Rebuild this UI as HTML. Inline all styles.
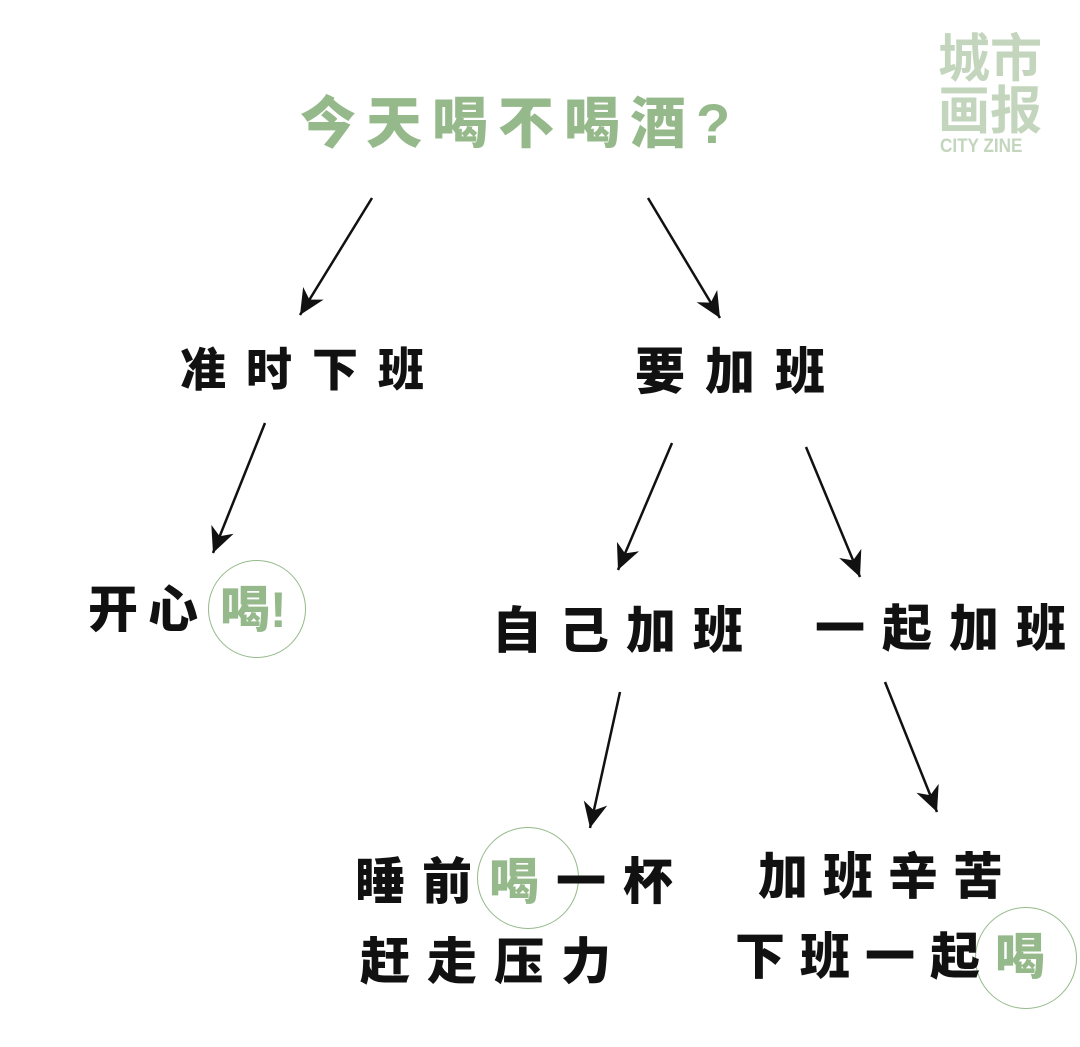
<!DOCTYPE html>
<html><head><meta charset="utf-8"><style>
html,body{margin:0;padding:0;background:#fff}
body{width:1080px;height:1047px;position:relative;overflow:hidden;font-family:"Liberation Sans","Noto Sans CJK SC",sans-serif}
.t{position:absolute;white-space:nowrap;font-weight:900;color:#111;line-height:1}
.g{color:#95b98a}
.c{position:absolute;border:1.5px solid #95b98a;border-radius:50%}
</style></head><body>
<svg width="1080" height="1047" style="position:absolute;left:0;top:0">
<defs>
<marker id="b" viewBox="0 0 20 20" markerWidth="30" markerHeight="30" refX="19" refY="10" orient="auto" markerUnits="userSpaceOnUse"><path d="M2,2 L19,10 L2,18 L7,10 Z" fill="#111"/></marker></defs>
<g stroke="#111" stroke-width="2.5" marker-end="url(#b)">
<line x1="372" y1="198" x2="300" y2="315"/>
<line x1="648" y1="198" x2="720" y2="318"/>
<line x1="265" y1="423" x2="213" y2="553"/>
<line x1="672" y1="443" x2="618" y2="570"/>
<line x1="806" y1="447" x2="860" y2="577"/>
<line x1="620" y1="692" x2="590" y2="828"/>
<line x1="885" y1="682" x2="937" y2="812"/>
</g></svg>
<div class="t g" style="left:300px;top:96px;font-size:56px;letter-spacing:10px">今天喝不喝酒?</div>
<div class="t" style="left:938px;top:34px;font-size:52px;color:#c3d6bd;font-weight:700">城市</div>
<div class="t" style="left:938px;top:86px;font-size:52px;color:#c3d6bd;font-weight:700">画报</div>
<div class="t" style="left:940px;top:137px;font-size:19px;color:#c3d6bd;font-weight:700;transform:scaleX(0.9);transform-origin:left">CITY ZINE</div>
<div class="t" style="left:180px;top:347px;font-size:46px;letter-spacing:20px">准时下班</div>
<div class="t" style="left:635px;top:347px;font-size:50px;letter-spacing:20px">要加班</div>
<div class="c" style="left:208px;top:560px;width:96px;height:96px"></div>
<div class="t" style="left:88px;top:585px;font-size:50px"><span style="letter-spacing:10px">开心</span><span class="g" style="margin-left:12px">喝!</span></div>
<div class="t" style="left:492px;top:606px;font-size:50px;letter-spacing:17px">自己加班</div>
<div class="t" style="left:815px;top:604px;font-size:50px;letter-spacing:17px">一起加班</div>
<div class="c" style="left:477px;top:827px;width:100px;height:100px"></div>
<div class="t" style="left:355px;top:857px;font-size:50px;letter-spacing:17px">睡前<span class="g">喝</span>一杯</div>
<div class="t" style="left:360px;top:937px;font-size:50px;letter-spacing:17px">赶走压力</div>
<div class="t" style="left:758px;top:852px;font-size:50px;letter-spacing:15px">加班辛苦</div>
<div class="c" style="left:975px;top:907px;width:100px;height:100px"></div>
<div class="t" style="left:735px;top:932px;font-size:50px;letter-spacing:15px">下班一起<span class="g">喝</span></div>
</body></html>
